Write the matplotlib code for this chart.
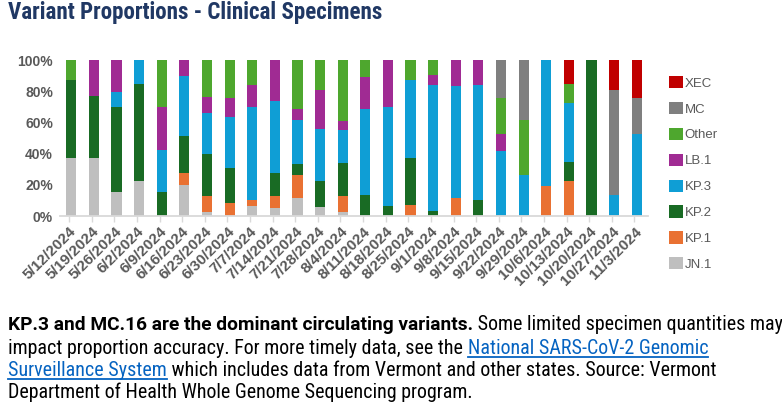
import matplotlib
matplotlib.use("Agg")
import matplotlib.pyplot as plt
from matplotlib import font_manager
from matplotlib.patches import Patch
from matplotlib.lines import Line2D
import numpy as np

dates = ["5/12/2024", "5/19/2024", "5/26/2024", "6/2/2024", "6/9/2024", "6/16/2024",
         "6/23/2024", "6/30/2024", "7/7/2024", "7/14/2024", "7/21/2024", "7/28/2024",
         "8/4/2024", "8/11/2024", "8/18/2024", "8/25/2024", "9/1/2024", "9/8/2024",
         "9/15/2024", "9/22/2024", "9/29/2024", "10/6/2024", "10/13/2024", "10/20/2024",
         "10/27/2024", "11/3/2024"]

jn1 = [37.4, 37.4, 15.6, 22.6, 0, 20.1, 2.6, 0, 6.6, 5.3, 11.8, 6.0, 2.6,
       0, 0, 0, 0, 0, 0, 0, 0, 0, 0, 0, 0, 0]
kp1 = [0, 0, 0, 0, 0, 7.7, 10.4, 8.3, 3.9, 7.7, 14.7, 0, 10.4,
       0, 0, 7.3, 0, 11.8, 0, 0, 0, 19.4, 22.6, 0, 0, 0]
kp2 = [49.8, 39.7, 54.5, 62.2, 15.6, 23.7, 27.0, 22.7, 0, 14.8, 7.0, 16.6, 21.2,
       13.7, 6.6, 30.1, 3.2, 0, 10.5, 0, 0, 0, 12.2, 100, 0, 0]
kp3 = [0, 0, 9.6, 15.2, 26.9, 38.5, 26.2, 32.5, 59.6, 45.9, 28.3, 33.4, 21.1,
       55.1, 63.5, 50.0, 81.0, 71.7, 73.7, 41.9, 26.5, 80.6, 37.8, 0, 13.7, 52.8]
lb1 = [0, 22.9, 20.3, 0, 27.4, 10.0, 10.1, 12.4, 14.1, 26.3, 6.8, 25.0, 5.8,
       20.5, 29.9, 0, 6.4, 16.5, 15.8, 10.9, 0, 0, 0, 0, 0, 0]
other = [12.8, 0, 0, 0, 30.1, 0, 23.7, 24.1, 15.8, 0, 31.4, 19.0, 38.9,
         10.7, 0, 12.6, 9.4, 0, 0, 23.1, 35.3, 0, 12.2, 0, 0, 0]
mc = [0] * 19 + [24.1, 38.2, 0, 0, 0, 67.3, 23.1]
xec = [0] * 22 + [15.2, 0, 19.0, 24.1]

series_names = ["JN.1", "KP.1", "KP.2", "KP.3", "LB.1", "Other", "MC", "XEC"]
series_values = [jn1, kp1, kp2, kp3, lb1, other, mc, xec]
series_colors = ["#BFBFBF", "#E97132", "#196B24", "#0F9ED5", "#A02B93", "#4EA72E", "#7F7F7F", "#C00000"]
y_ticks = [0, 20, 40, 60, 80, 100]
y_tick_labels = ["0%", "20%", "40%", "60%", "80%", "100%"]

avail = {f.name for f in font_manager.fontManager.ttflist}
narrow = None
for cand in ["Roboto Condensed", "Liberation Sans Narrow", "Open Sans Condensed",
             "Noto Sans Condensed", "DejaVu Sans Condensed"]:
    if cand in avail:
        narrow = cand
        break
narrow_stretch = "normal"
if narrow is None:
    cond = [f for f in font_manager.fontManager.ttflist
            if f.name == "DejaVu Sans" and str(f.stretch) in ("condensed", "semi-condensed")]
    if cond:
        narrow = "DejaVu Sans"
        narrow_stretch = "condensed"
    else:
        narrow = "Roboto" if "Roboto" in avail else "Liberation Sans"
base = "Liberation Sans"
boldfam = "Roboto" if "Roboto" in avail else narrow

W, H = 782, 405
fig = plt.figure(figsize=(W / 100, H / 100), dpi=100)
fig.patch.set_facecolor("white")

ax = fig.add_axes([60 / W, 1 - 216 / H, (648 - 60) / W, (216 - 60) / H])
x = np.arange(len(dates))
bottom = np.zeros(len(dates))
for name, vals, col in zip(series_names, series_values, series_colors):
    v = np.array(vals, dtype=float)
    ax.bar(x, v, width=0.45, bottom=bottom, color=col, label=name, linewidth=0)
    bottom += v

ax.set_xlim(-0.5, len(dates) - 0.5)
ax.set_ylim(0, 100)
ax.set_yticks(y_ticks)
ax.set_yticklabels(y_tick_labels, fontfamily=base, fontweight="bold", fontsize=10, color="#595959")
ax.set_xticks(x - 0.1)
ax.set_xticklabels(dates, rotation=45, ha="right", rotation_mode="anchor",
                   fontfamily=base, fontweight="bold", fontsize=11, color="#595959")
for s in ["top", "right", "left"]:
    ax.spines[s].set_visible(False)
ax.spines["bottom"].set_color("#D9D9D9")
ax.spines["bottom"].set_linewidth(1.3)
ax.tick_params(axis="y", length=0, pad=5)
ax.tick_params(axis="x", length=4, color="#D9D9D9", width=1, pad=2)

handles = [Patch(facecolor=c, edgecolor="none") for c in series_colors][::-1]
labels = series_names[::-1]
fig.legend(handles, labels, loc="upper left", bbox_to_anchor=(669 / W, 1 - 76 / H),
           frameon=False, prop={"family": base, "size": 9.5}, labelcolor="#595959",
           handlelength=1.05, handleheight=1.05, handletextpad=0.12, labelspacing=0.93,
           borderpad=0, borderaxespad=0)

fig.text(8 / W, 1 - 13 / H, "Variant Proportions - Clinical Specimens", fontfamily=narrow,
         fontstretch=narrow_stretch, fontweight="bold", fontsize=16.6, color="#203864",
         va="center", ha="left")

renderer = fig.canvas.get_renderer()
lines = [
    [("KP.3 and MC.16 are the dominant circulating variants.", "bold"),
     (" Some limited specimen quantities may", "normal")],
    [("impact proportion accuracy. For more timely data, see the ", "normal"),
     ("National SARS-CoV-2 Genomic", "link")],
    [("Surveillance System", "link"),
     (" which includes data from Vermont and other states. Source: Vermont", "normal")],
    [("Department of Health Whole Genome Sequencing program.", "normal")],
]
line_y = [325, 348, 370, 392]


def seg_props(style, size):
    if style == "bold":
        return dict(fontfamily=boldfam, fontsize=size, fontweight="bold",
                    color="black", va="center", ha="left")
    return dict(fontfamily=narrow, fontstretch=narrow_stretch, fontsize=size,
                fontweight="normal",
                color="#0563C1" if style == "link" else "black",
                va="center", ha="left")


def measure(txt, style, size):
    t = fig.text(0, 0, txt, **seg_props(style, size))
    w = t.get_window_extent(renderer).width
    t.remove()
    return w


# regular text size: last paragraph line spans x 8 .. 472
normal_size = 13.0 * 464.0 / measure(lines[3][0][0], "normal", 13.0)
# bold lead-in spans x 8 .. 472
bold_size = 13.0 * 464.0 / measure(lines[0][0][0], "bold", 13.0)
sizes = {"normal": normal_size, "link": normal_size, "bold": bold_size}

for segs, yy in zip(lines, line_y):
    xp = 8
    for txt, style in segs:
        t = fig.text(xp / W, 1 - yy / H, txt, **seg_props(style, sizes[style]))
        bb = t.get_window_extent(renderer)
        if style == "link":
            uy = bb.y0 + 1
            fig.add_artist(Line2D([bb.x0 / W, bb.x1 / W], [uy / H, uy / H],
                                  transform=fig.transFigure, color="#0563C1", linewidth=1.3))
        xp += bb.width

fig.savefig("out.png", dpi=100, facecolor="white")
